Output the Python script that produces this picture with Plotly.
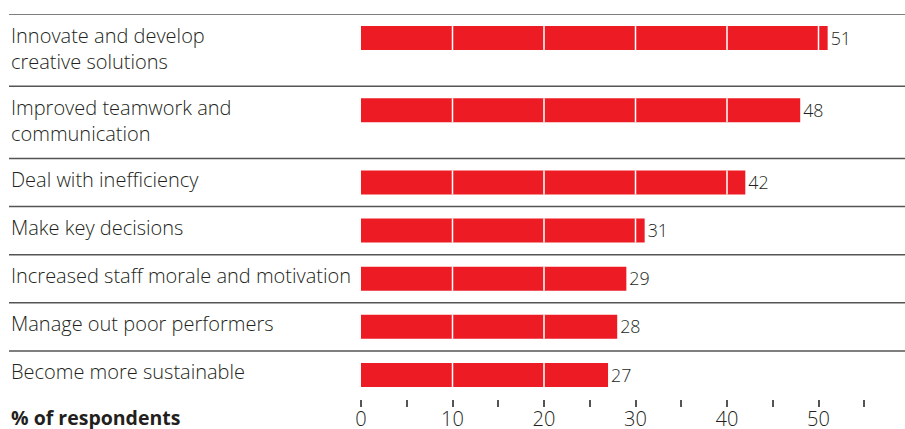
import plotly.graph_objects as go

# Survey responses: share of respondents naming each benefit
categories = [
    "Innovate and develop<br>creative solutions",
    "Improved teamwork and<br>communication",
    "Deal with inefficiency",
    "Make key decisions",
    "Increased staff morale and motivation",
    "Manage out poor performers",
    "Become more sustainable",
]
values = [51, 48, 42, 31, 29, 28, 27]
tick_values = [0, 10, 20, 30, 40, 50]
axis_title = "% of respondents"

RED = "#ED1C24"
TEXT = "#231F20"
RULE = "#555555"
FONT = "Open Sans"
WEIGHT = 300
SIZE = 20

W, H = 905, 429
L, T, B = 361, 14, 30
plot_w = W - L
plot_h = H - T - B

# Row layout in y units (1 unit = 1 px): each row is 24 + 24 per text line tall,
# bar centred 24 below the row's top rule
unit = 24
n_lines = [c.count("<br>") + 1 for c in categories]
row_tops, centers = [], []
y = 0
for n in n_lines:
    row_tops.append(y)
    centers.append(y + unit)
    y += unit + unit * n
total = y

fig = go.Figure(
    go.Bar(
        x=values,
        y=centers,
        orientation="h",
        width=unit,
        marker=dict(color=RED, line=dict(width=0)),
        text=[str(v) for v in values],
        textposition="outside",
        textfont=dict(family=FONT, size=SIZE, color=TEXT, weight=WEIGHT),
        cliponaxis=False,
        hoverinfo="skip",
    )
)

x_max = plot_w / 9.15
left_paper = (9 - L) / plot_w

shapes = []
# Horizontal rules between rows, running under the labels too
for yt in row_tops + [plot_h]:
    shapes.append(dict(type="line", xref="paper", yref="y", x0=left_paper, x1=1,
                       y0=yt, y1=yt, line=dict(color=RULE, width=1.5), layer="above"))
# White grid lines cutting through each bar
for v, c in zip(values, centers):
    for gx in tick_values[1:]:
        if gx < v:
            shapes.append(dict(type="line", xref="x", yref="y", x0=gx, x1=gx,
                               y0=c - unit / 2, y1=c + unit / 2,
                               line=dict(color="white", width=1.5), layer="above"))

annotations = []
line_gap = 1.3 * SIZE
for cat, c, n in zip(categories, centers, n_lines):
    # first text line sits level with the bar
    annotations.append(dict(
        text=cat, xref="paper", yref="y", x=left_paper, y=c - 3 + (n - 1) * line_gap / 2,
        xanchor="left", yanchor="middle", align="left", showarrow=False,
        font=dict(family=FONT, size=SIZE, color=TEXT, weight=WEIGHT),
    ))
annotations.append(dict(
    text="<b>" + axis_title + "</b>", xref="paper", yref="paper",
    x=left_paper, y=-19 / plot_h, xanchor="left", yanchor="middle",
    showarrow=False, font=dict(family=FONT, size=19.5, color=TEXT),
))

fig.update_layout(
    width=W, height=H,
    margin=dict(l=L, r=0, t=T, b=B, pad=0, autoexpand=False),
    plot_bgcolor="white", paper_bgcolor="white",
    showlegend=False,
    shapes=shapes,
    annotations=annotations,
    xaxis=dict(
        range=[0, x_max], fixedrange=True, automargin=False,
        tickvals=tick_values, ticktext=[str(v) for v in tick_values],
        ticks="outside", ticklen=7, tickwidth=1.5, tickcolor=RULE,
        minor=dict(dtick=5, ticks="outside", ticklen=7, tickwidth=1.5, tickcolor=RULE),
        showgrid=False, zeroline=False, showline=False,
        ticklabelstandoff=-5,
        tickfont=dict(family=FONT, size=SIZE, color=TEXT, weight=WEIGHT),
    ),
    yaxis=dict(
        range=[total, 0], fixedrange=True, automargin=False,
        showticklabels=False, showgrid=False, zeroline=False, showline=False, ticks="",
    ),
)

fig.write_html("out.html")
